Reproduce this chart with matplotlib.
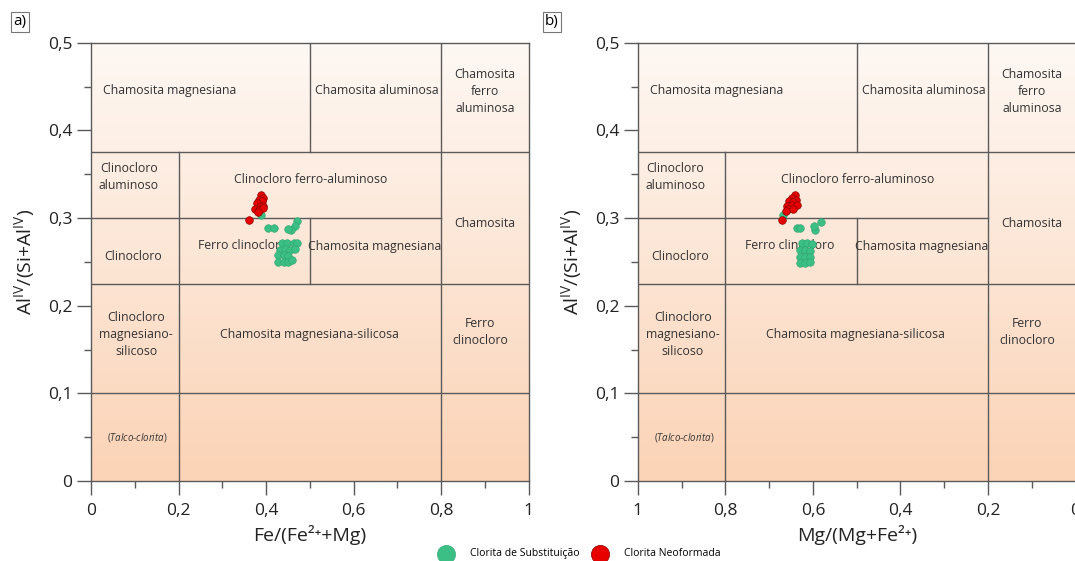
import numpy as np
import matplotlib
matplotlib.use('Agg')
import matplotlib.pyplot as plt
from matplotlib.colors import LinearSegmentedColormap
from matplotlib.ticker import MultipleLocator, FuncFormatter

plt.rcParams['font.family'] = ['Open Sans', 'DejaVu Sans']
plt.rcParams['mathtext.fontset'] = 'custom'
plt.rcParams['mathtext.rm'] = 'Open Sans'
plt.rcParams['mathtext.it'] = 'Open Sans:italic'

'''Dados - diagrama a) Fe/(Fe2+ + Mg)'''
fe_subst = [0.389, 0.405, 0.417, 0.470, 0.465, 0.457, 0.451, 0.436, 0.447, 0.463, 0.470,
            0.432, 0.443, 0.455, 0.466, 0.428, 0.440, 0.451, 0.428, 0.440, 0.451, 0.459]
al_subst_a = [0.304, 0.289, 0.289, 0.297, 0.291, 0.286, 0.288, 0.271, 0.272, 0.272, 0.272,
              0.264, 0.265, 0.264, 0.265, 0.258, 0.258, 0.257, 0.250, 0.250, 0.250, 0.252]
fe_neo = [0.389, 0.394, 0.383, 0.390, 0.379, 0.386, 0.394, 0.375, 0.384, 0.392, 0.381, 0.361]
al_neo_a = [0.326, 0.323, 0.321, 0.319, 0.317, 0.314, 0.314, 0.310, 0.309, 0.311, 0.307, 0.298]

'''Dados - diagrama b) Mg/(Mg + Fe2+)'''
mg_subst = [0.668, 0.637, 0.630, 0.595, 0.597, 0.582, 0.626, 0.614, 0.603,
            0.630, 0.618, 0.607, 0.630, 0.618, 0.607, 0.630, 0.618, 0.607]
al_subst_b = [0.304, 0.289, 0.289, 0.286, 0.291, 0.296, 0.271, 0.271, 0.270,
              0.264, 0.264, 0.262, 0.256, 0.256, 0.256, 0.249, 0.249, 0.250]
mg_neo = [0.641, 0.649, 0.639, 0.655, 0.645, 0.660, 0.649, 0.637, 0.656, 0.645, 0.662, 0.670]
al_neo_b = [0.326, 0.323, 0.321, 0.319, 0.318, 0.314, 0.315, 0.315, 0.310, 0.310, 0.308, 0.298]

'''Campos do diagrama (em Fe/(Fe+Mg))'''
linhas_h = [(0.375, 0, 1), (0.3, 0, 0.8), (0.225, 0, 1), (0.1, 0, 1)]
linhas_v = [(0.2, 0, 0.375), (0.5, 0.375, 0.5), (0.5, 0.225, 0.3), (0.8, 0, 0.5)]
nomes = ['Chamosita magnesiana', 'Chamosita aluminosa', 'Chamosita\nferro\naluminosa',
         'Clinocloro\naluminoso', 'Clinocloro ferro-aluminoso', 'Chamosita',
         'Ferro clinocloro', 'Chamosita magnesiana', 'Clinocloro',
         'Clinocloro\nmagnesiano-\nsilicoso', 'Chamosita magnesiana-silicosa',
         'Ferro\nclinocloro']
pos_nomes = [(0.18, 0.446), (0.654, 0.446), (0.90, 0.444),
             (0.086, 0.347), (0.503, 0.3445), (0.90, 0.294),
             (0.347, 0.269), (0.649, 0.268), (0.096, 0.256),
             (0.103, 0.1666), (0.498, 0.1666), (0.889, 0.17)]

cor_linha = '#5a5a5a'
verde = '#3cbf84'
vermelho = '#e60000'
fundo = LinearSegmentedColormap.from_list('fundo', ['#fef8f4', '#fbd3b6'])

fig = plt.figure(figsize=(10.75, 5.61), dpi=100)
ax_a = fig.add_axes([0.0847, 0.1426, 0.407, 0.7813])
ax_b = fig.add_axes([0.5934, 0.1426, 0.4071, 0.7813])


def virgula(v, pos):
    return ('%g' % round(v, 2)).replace('.', ',')


def montar(ax, espelho):
    # gradiente: claro no topo, pessego na base
    grad = np.linspace(1, 0, 256).reshape(-1, 1)
    ax.imshow(grad, cmap=fundo, extent=(0, 1, 0, 0.5), origin='lower',
              aspect='auto', zorder=0)
    for y, x0, x1 in linhas_h:
        if espelho:
            x0, x1 = 1 - x0, 1 - x1
        ax.plot([x0, x1], [y, y], color=cor_linha, lw=1.0, zorder=1)
    for x, y0, y1 in linhas_v:
        if espelho:
            x = 1 - x
        ax.plot([x, x], [y0, y1], color=cor_linha, lw=1.0, zorder=1)
    for nome, (x, y) in zip(nomes, pos_nomes):
        if espelho:
            x = 1 - x
        ax.text(x, y, nome, ha='center', va='center', fontsize=8.8,
                color='#333333', linespacing=1.4, zorder=2)
    xt = 0.105 if not espelho else 0.895
    ax.text(xt, 0.05, r'($\mathit{Talco}$-$\mathit{clorita}$)', ha='center', va='center',
            fontsize=7, color='#333333', zorder=2)
    ax.set_ylim(0, 0.5)
    if espelho:
        ax.set_xlim(1, 0)
    else:
        ax.set_xlim(0, 1)
    ax.xaxis.set_major_locator(MultipleLocator(0.2))
    ax.xaxis.set_minor_locator(MultipleLocator(0.1))
    ax.yaxis.set_major_locator(MultipleLocator(0.1))
    ax.yaxis.set_minor_locator(MultipleLocator(0.05))
    ax.xaxis.set_major_formatter(FuncFormatter(virgula))
    ax.yaxis.set_major_formatter(FuncFormatter(virgula))
    ax.tick_params(which='major', length=10, width=1.0, color=cor_linha,
                   labelsize=12.5, labelcolor='#222222')
    ax.tick_params(which='minor', length=5, width=1.0, color=cor_linha)
    ax.tick_params(axis='x', which='major', pad=6)
    for s in ax.spines.values():
        s.set_color(cor_linha)
        s.set_linewidth(1.0)
    ax.set_ylabel(r'Al$^{\mathrm{IV}}$/(Si+Al$^{\mathrm{IV}}$)', fontsize=14,
                  color='#222222', labelpad=8)


montar(ax_a, False)
montar(ax_b, True)

sub = ax_a.scatter(fe_subst, al_subst_a, s=30, color=verde, edgecolors='#2fa46e',
                   linewidths=0.4, zorder=3, label='Clorita de Substituição')
neo = ax_a.scatter(fe_neo, al_neo_a, s=30, color=vermelho, edgecolors='#8a0000',
                   linewidths=0.5, zorder=4, label='Clorita Neoformada')
ax_b.scatter(mg_subst, al_subst_b, s=30, color=verde, edgecolors='#2fa46e',
             linewidths=0.4, zorder=3)
ax_b.scatter(mg_neo, al_neo_b, s=30, color=vermelho, edgecolors='#8a0000',
             linewidths=0.5, zorder=4)

ax_a.set_xlabel('Fe/(Fe²⁺+Mg)', fontsize=14, color='#222222', labelpad=4)
ax_b.set_xlabel('Mg/(Mg+Fe²⁺)', fontsize=14, color='#222222', labelpad=4)

caixa = dict(boxstyle='square,pad=0.15', facecolor='white', edgecolor='#777777', linewidth=0.8)
fig.text(20 / 1075, 1 - 22 / 561, 'a)', fontsize=11, ha='center', va='center', bbox=caixa)
fig.text(552 / 1075, 1 - 22 / 561, 'b)', fontsize=11, ha='center', va='center', bbox=caixa)

fig.legend(handles=[sub, neo], loc='center', bbox_to_anchor=(0.538, 0.0125), ncol=2,
           frameon=False, fontsize=7.5, markerscale=2.4, handletextpad=1.3,
           columnspacing=1.0, borderpad=0)

fig.savefig('out.png', dpi=100)
